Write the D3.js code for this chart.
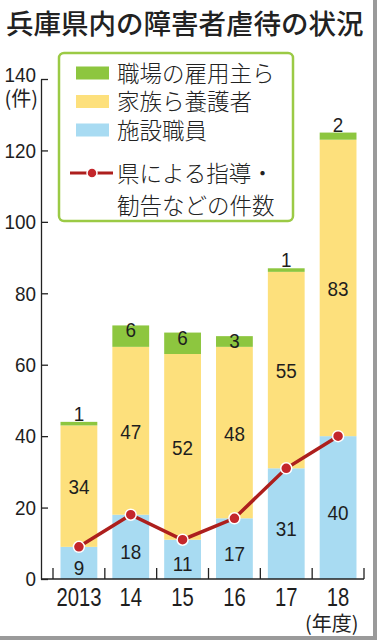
<!DOCTYPE html>
<html>
<head>
<meta charset="utf-8">
<script src="https://cdn.jsdelivr.net/npm/d3@7"></script>
<style>
  html, body { margin: 0; padding: 0; background: #fff; }
  svg { display: block; }
  .jp { font-family: "Noto Sans CJK JP", "Noto Sans", sans-serif; fill: #222; }
  .num { font-family: "Liberation Sans", Arial, sans-serif; fill: #1e1e1e; }
</style>
</head>
<body>
<svg id="chart"></svg>
<script>
// 年度
const years = ['2013', '14', '15', '16', '17', '18'];
// 施設職員 / 家族ら養護者 / 職場の雇用主ら
const staff = [9, 18, 11, 17, 31, 40];
const family = [34, 47, 52, 48, 55, 83];
const employer = [1, 6, 6, 3, 1, 2];
// 県による指導・勧告などの件数
const guidance = [9, 18, 11, 17, 31, 40];
const yTicks = [0, 20, 40, 60, 80, 100, 120, 140];
const seriesKeys = ['staff', 'family', 'employer'];
const seriesNames = { employer: '職場の雇用主ら', family: '家族ら養護者', staff: '施設職員' };
const lineName = ['県による指導・', '勧告などの件数'];

const colors = { staff: '#a8dbf2', family: '#fde07c', employer: '#8dc63f' };
const lineColor = '#ad1f1d';

const W = 377, H = 640;
const svg = d3.select('#chart').attr('width', W).attr('height', H);

// narrow the digits: scale text horizontally, keeping its x position
function condense(sel, k) {
    sel.each(function() {
        const t = d3.select(this);
        const xx = +t.attr('x') || 0;
        t.attr('x', xx / k).attr('transform', 'scale(' + k + ',1)');
    });
}

const rows = years.map((y, i) => ({ year: y, staff: staff[i], family: family[i], employer: employer[i] }));
const stacked = d3.stack().keys(seriesKeys)(rows);

const x = d3.scaleBand().domain(years).range([53, 364]).paddingInner(0.29).paddingOuter(0.145);
const y = d3.scaleLinear().domain([0, 140]).range([579, 79]);

// title
svg.append('text').attr('class', 'jp')
    .attr('x', 6).attr('y', 34)
    .style('font-size', '27.5px').style('font-weight', 500)
    .text('兵庫県内の障害者虐待の状況');

// bars
const layers = svg.append('g').selectAll('g').data(stacked).enter().append('g')
    .attr('fill', d => colors[d.key]);
layers.selectAll('rect').data(d => d).enter().append('rect')
    .attr('x', d => x(d.data.year))
    .attr('width', x.bandwidth())
    .attr('y', d => y(d[1]))
    .attr('height', d => y(d[0]) - y(d[1]));

// y axis (ticks point inward)
const yAxis = d3.axisLeft(y).tickValues(yTicks).tickSizeInner(-7).tickSizeOuter(0).tickPadding(5);
const gy = svg.append('g').attr('transform', 'translate(41,0)').call(yAxis);
gy.select('.domain').attr('stroke', '#222').attr('stroke-width', 1.3);
gy.selectAll('.tick line').attr('stroke', '#222').attr('stroke-width', 1.3);
gy.selectAll('.tick text').attr('class', 'num').style('font-size', '21px').attr('fill', '#1e1e1e');
gy.selectAll('.tick').filter(d => d === 140).select('text').attr('dy', '0.1em');
condense(gy.selectAll('.tick text'), 0.9);
svg.append('text').attr('class', 'jp')
    .attr('x', 38).attr('y', 106)
    .attr('text-anchor', 'end')
    .style('font-size', '20px')
    .text('(件)');

// x axis
const xAxis = d3.axisBottom(x).tickSize(0).tickPadding(9);
const gx = svg.append('g').attr('transform', 'translate(0,579)').call(xAxis);
gx.select('.domain').remove();
gx.selectAll('.tick text').attr('class', 'num').style('font-size', '25px').attr('fill', '#1e1e1e');
condense(gx.selectAll('.tick text'), 0.81);
svg.append('line')
    .attr('x1', 41).attr('x2', x.range()[1])
    .attr('y1', y(0)).attr('y2', y(0))
    .attr('stroke', '#222').attr('stroke-width', 1.3);
const bounds = d3.range(years.length + 1).map(i => x.range()[0] + i * x.step());
svg.append('g').selectAll('line').data(bounds).enter().append('line')
    .attr('x1', d => d).attr('x2', d => d)
    .attr('y1', y(0)).attr('y2', y(0) - 11)
    .attr('stroke', '#222').attr('stroke-width', 1.3);
svg.append('text').attr('class', 'jp')
    .attr('x', x('18') + x.bandwidth() + 2).attr('y', 631)
    .attr('text-anchor', 'end')
    .style('font-size', '20px')
    .text('(年度)');

// guidance line
const cx = d => x(d) + x.bandwidth() / 2;
const line = d3.line().x((d, i) => cx(years[i])).y(d => y(d));
svg.append('path').datum(guidance)
    .attr('d', line)
    .attr('fill', 'none')
    .attr('stroke', lineColor)
    .attr('stroke-width', 3.5);
svg.append('g').selectAll('circle').data(guidance).enter().append('circle')
    .attr('cx', (d, i) => cx(years[i]))
    .attr('cy', d => y(d))
    .attr('r', 5.5)
    .attr('fill', '#c4262b')
    .attr('stroke', '#fff')
    .attr('stroke-width', 1.5);

// value labels
const labels = svg.append('g');
stacked.forEach(layer => {
    layer.forEach(d => {
        const v = d[1] - d[0];
        let ty;
        if (layer.key === 'employer') {
            ty = v >= 3 ? y(d[1]) + 12 : y(d[1]) - 1;
        } else if (layer.key === 'staff') {
            ty = (y(d[0]) + y(d[1])) / 2 + 4 + 8;
        } else {
            ty = (y(d[0]) + y(d[1])) / 2 + 8;
        }
        labels.append('text').attr('class', 'num')
            .attr('x', cx(d.data.year))
            .attr('y', ty)
            .attr('text-anchor', 'middle')
            .style('font-size', '21px')
            .text(v);
    });
});
condense(labels.selectAll('text'), 0.9);

// legend
const lg = svg.append('g');
lg.append('rect')
    .attr('x', 59).attr('y', 53)
    .attr('width', 234).attr('height', 168)
    .attr('rx', 5)
    .attr('fill', '#fff')
    .attr('stroke', '#9bca45')
    .attr('stroke-width', 2.5);
['employer', 'family', 'staff'].forEach((k, i) => {
    const cy = 73 + i * 28.5;
    lg.append('rect')
        .attr('x', 76).attr('y', cy - 6.5)
        .attr('width', 33).attr('height', 13)
        .attr('fill', colors[k]);
    lg.append('text').attr('class', 'jp')
        .attr('x', 117).attr('y', cy).attr('dy', '0.38em')
        .style('font-size', '22.5px').style('font-weight', 300)
        .text(seriesNames[k]);
});
lg.append('line')
    .attr('x1', 70).attr('x2', 113)
    .attr('y1', 173).attr('y2', 173)
    .attr('stroke', lineColor).attr('stroke-width', 3);
lg.append('circle')
    .attr('cx', 92).attr('cy', 173).attr('r', 5)
    .attr('fill', '#c4262b').attr('stroke', '#fff').attr('stroke-width', 1.5);
lineName.forEach((t, i) => {
    lg.append('text').attr('class', 'jp')
        .attr('x', 117).attr('y', 173 + i * 32).attr('dy', '0.38em')
        .style('font-size', '22.5px').style('font-weight', 300)
        .text(t);
});

// frame shadow
svg.append('rect').attr('x', 373).attr('y', 0).attr('width', 4).attr('height', H).attr('fill', '#9a9a9a');
svg.append('rect').attr('x', 0).attr('y', 636).attr('width', W).attr('height', 4).attr('fill', '#9a9a9a');
</script>
</body>
</html>
